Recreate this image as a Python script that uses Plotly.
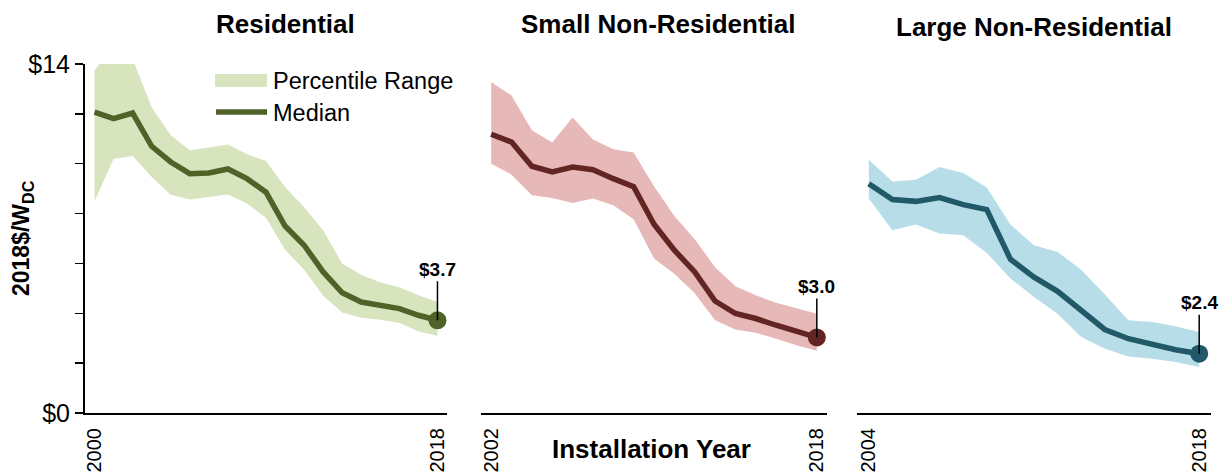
import plotly.graph_objects as go

# ---------------- data ----------------
res_years = list(range(2000, 2019))
res_median = [12.07, 11.81, 12.03, 10.70, 10.07, 9.60, 9.63, 9.79, 9.40, 8.86,
              7.50, 6.73, 5.66, 4.82, 4.45, 4.34, 4.19, 3.92, 3.72]
res_upper = [13.75, 14.7, 14.2, 12.27, 11.14, 10.54, 10.65, 10.77, 10.38, 10.11,
             9.07, 8.25, 7.33, 5.99, 5.55, 5.23, 5.04, 4.72, 4.45]
res_lower = [8.49, 10.20, 10.31, 9.47, 8.76, 8.56, 8.66, 8.77, 8.40, 7.83,
             6.55, 5.75, 4.70, 4.03, 3.82, 3.74, 3.62, 3.27, 3.10]

small_years = list(range(2002, 2019))
small_median = [11.18, 10.87, 9.90, 9.67, 9.87, 9.76, 9.40, 9.08, 7.57, 6.53,
                5.66, 4.49, 3.99, 3.79, 3.52, 3.25, 3.03]
small_upper = [13.28, 12.74, 11.34, 10.85, 11.85, 10.97, 10.58, 10.45, 9.10, 7.90,
               6.97, 5.85, 5.08, 4.72, 4.42, 4.19, 3.98]
small_lower = [10.00, 9.56, 8.73, 8.62, 8.42, 8.60, 8.33, 7.77, 6.20, 5.59,
               4.80, 3.72, 3.35, 3.22, 2.98, 2.72, 2.50]

large_years = list(range(2004, 2019))
large_median = [9.20, 8.56, 8.49, 8.64, 8.36, 8.16, 6.17, 5.45, 4.88, 4.08,
                3.35, 2.98, 2.74, 2.54, 2.38]
large_upper = [10.16, 9.29, 9.36, 9.87, 9.63, 9.05, 7.56, 6.73, 6.46, 5.75,
               4.75, 3.72, 3.65, 3.48, 3.25]
large_lower = [8.60, 7.33, 7.56, 7.20, 7.13, 6.42, 5.40, 4.65, 3.98, 3.05,
               2.58, 2.27, 2.18, 2.05, 1.85]

panel_titles = ["Residential", "Small Non-Residential", "Large Non-Residential"]
y_label_vals = [0, 14]
y_label_text = ["$0", "$14"]
y_tick_step = 2
legend_labels = ["Percentile Range", "Median"]

# ---------------- style ----------------
W, H = 1224, 474
band_colors = ["#d7e4bd", "#e6b9b8", "#b7dee8"]
line_colors = ["#4f6228", "#632523", "#215968"]
FONT = "Liberation Sans, Arial, sans-serif"

def px(x):
    return x / W

def py(y):
    return 1 - y / H

x_domains = [(85, 447), (481, 827), (857, 1211)]
y_domain = [py(413), py(64)]
title_pos = [(285, 24), (658, 24), (1034, 27)]

panels = [
    (res_years, res_median, res_upper, res_lower),
    (small_years, small_median, small_upper, small_lower),
    (large_years, large_median, large_upper, large_lower),
]

fig = go.Figure()
annotations = []
layout_axes = {}

for i, (yrs, med, up, lo) in enumerate(panels):
    n = "" if i == 0 else str(i + 1)
    xa, ya = "x" + n, "y" + n
    fig.add_trace(go.Scatter(x=yrs, y=up, mode="lines", line=dict(width=0),
                             hoverinfo="skip", showlegend=False, xaxis=xa, yaxis=ya))
    fig.add_trace(go.Scatter(x=yrs, y=lo, mode="lines", line=dict(width=0),
                             fill="tonexty", fillcolor=band_colors[i],
                             name=legend_labels[0], showlegend=False, xaxis=xa, yaxis=ya))
    fig.add_trace(go.Scatter(x=yrs, y=med, mode="lines",
                             line=dict(color=line_colors[i], width=5.5),
                             name=legend_labels[1], showlegend=False, xaxis=xa, yaxis=ya))
    fig.add_trace(go.Scatter(x=[yrs[-1]], y=[med[-1]], mode="markers",
                             marker=dict(color=line_colors[i], size=18),
                             showlegend=False, hoverinfo="skip", xaxis=xa, yaxis=ya))

    layout_axes["xaxis" + n] = dict(
        domain=[px(x_domains[i][0]), px(x_domains[i][1])],
        range=[yrs[0] - 0.5, yrs[-1] + 0.5],
        anchor=ya, showgrid=False, zeroline=False, automargin=False,
        showline=True, linecolor="black", linewidth=2,
        tickmode="array", tickvals=[yrs[0], yrs[-1]],
        ticktext=[str(yrs[0]), str(yrs[-1])],
        tickangle=-90, ticks="outside", ticklen=5, tickcolor="rgba(0,0,0,0)",
        tickfont=dict(family=FONT, size=20, color="black"),
    )
    if i == 0:
        layout_axes["yaxis" + n] = dict(
            domain=y_domain, range=[0, 14], anchor=xa,
            showgrid=False, zeroline=False, automargin=False,
            showline=True, linecolor="black", linewidth=2,
            tickmode="array", tickvals=y_label_vals, ticktext=y_label_text,
            ticks="outside", ticklen=8, tickwidth=1.5, tickcolor="black",
            minor=dict(tick0=0, dtick=y_tick_step, ticks="outside", ticklen=8,
                       tickwidth=1.5, tickcolor="black", showgrid=False),
            tickfont=dict(family=FONT, size=25, color="black"),
        )
    else:
        layout_axes["yaxis" + n] = dict(
            domain=y_domain, range=[0, 14], anchor=xa, automargin=False,
            showgrid=False, zeroline=False, showline=False,
            showticklabels=False, ticks="",
        )

    # panel title
    annotations.append(dict(
        text="<b>" + panel_titles[i] + "</b>", xref="paper", yref="paper",
        x=px(title_pos[i][0]), y=py(title_pos[i][1]), xanchor="center", yanchor="middle",
        showarrow=False, font=dict(family=FONT, size=26, color="black")))

    # end value label
    annotations.append(dict(
        text="<b>$%.1f</b>" % med[-1], xref=xa, yref=ya, x=yrs[-1], y=med[-1],
        ax=0, ay=-51, showarrow=True, arrowhead=0, arrowwidth=1.5, arrowcolor="black",
        standoff=0, font=dict(family=FONT, size=19, color="black")))

# axis titles
annotations.append(dict(
    text="<b>2018$/W<sub>DC</sub></b>", xref="paper", yref="paper",
    x=px(22), y=py(238), xanchor="center", yanchor="middle", textangle=-90,
    showarrow=False, font=dict(family=FONT, size=23, color="black")))
annotations.append(dict(
    text="<b>Installation Year</b>", xref="paper", yref="paper",
    x=px(651), y=py(449), xanchor="center", yanchor="middle",
    showarrow=False, font=dict(family=FONT, size=26, color="black")))

# legend (drawn in the first panel)
annotations.append(dict(
    text=legend_labels[0], xref="paper", yref="paper", x=px(271), y=py(81),
    xanchor="left", yanchor="middle", showarrow=False,
    font=dict(family=FONT, size=23.5, color="black")))
annotations.append(dict(
    text=legend_labels[1], xref="paper", yref="paper", x=px(271), y=py(113),
    xanchor="left", yanchor="middle", showarrow=False,
    font=dict(family=FONT, size=23.5, color="black")))

shapes = [
    dict(type="rect", xref="paper", yref="paper", x0=px(215), x1=px(267),
         y0=py(87), y1=py(74), fillcolor=band_colors[0], line=dict(width=0)),
    dict(type="line", xref="paper", yref="paper", x0=px(216), x1=px(267),
         y0=py(112), y1=py(112), line=dict(color=line_colors[0], width=5.5)),
]

fig.update_layout(
    width=W, height=H, margin=dict(l=0, r=0, t=0, b=0, autoexpand=False),
    paper_bgcolor="white", plot_bgcolor="white",
    showlegend=False, annotations=annotations, shapes=shapes,
    **layout_axes,
)

fig.write_html("out.html",
               config={"displayModeBar": False, "staticPlot": True},
               post_script="document.body.style.margin='0px';"
                           "document.body.style.overflow='hidden';")
